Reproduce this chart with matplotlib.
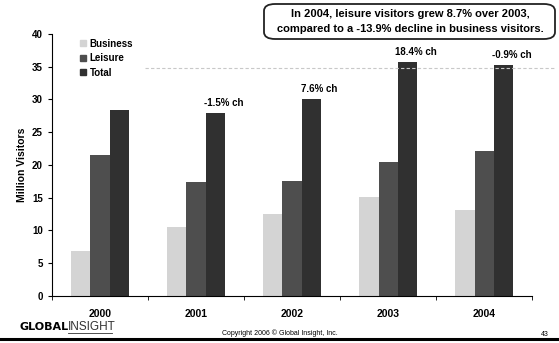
import matplotlib
matplotlib.use("Agg")
import matplotlib.pyplot as plt
import numpy as np
from matplotlib.patches import FancyBboxPatch
from matplotlib.lines import Line2D

plt.rcParams["font.family"] = ["Liberation Sans", "DejaVu Sans"]

years = ["2000", "2001", "2002", "2003", "2004"]
business = [6.8, 10.5, 12.5, 15.1, 13.1]
leisure = [21.6, 17.4, 17.5, 20.4, 22.1]
total = [28.4, 28.0, 30.1, 35.7, 35.3]
total_change = ["", "-1.5% ch", "7.6% ch", "18.4% ch", "-0.9% ch"]
series_names = ["Business", "Leisure", "Total"]
colors = ["#d4d4d4", "#4e4e4e", "#303030"]

fig = plt.figure(figsize=(5.59, 3.43), dpi=100)
ax = fig.add_axes([0.093, 0.137, 0.859, 0.764])

x = np.arange(len(years))
w = 0.2
for i, (vals, c, name) in enumerate(zip([business, leisure, total], colors, series_names)):
    ax.bar(x + (i - 1)*w, vals, w, color=c, label=name, edgecolor="none")

for xi, tv, lab in zip(x, total, total_change):
    if lab:
        ax.annotate(lab, (xi + w, tv), xytext=(6, 7), textcoords="offset points",
                    ha="center", va="center", fontsize=7, fontweight="bold")

ax.set_xlim(-0.5, len(years) - 0.5)
ax.set_ylim(0, 40)
ax.set_yticks(range(0, 41, 5))
ax.set_xticks(x)
ax.set_xticklabels(years, fontsize=7.5, fontweight="bold")
ax.set_xticks(np.arange(-0.5, len(years)), minor=True)
ax.tick_params(axis="x", which="major", length=0, pad=9)
ax.tick_params(axis="x", which="minor", length=3, direction="out")
ax.tick_params(axis="y", labelsize=7, length=3, direction="out")
for t in ax.get_yticklabels():
    t.set_fontweight("bold")
ax.spines["top"].set_visible(False)
ax.spines["right"].set_visible(False)
ax.set_ylabel("Million Visitors", fontsize=7.5, fontweight="bold", labelpad=4)

handles = [Line2D([], [], marker="s", linestyle="none", color=c, markersize=4.5) for c in colors]
leg = ax.legend(handles, series_names, loc="upper left", bbox_to_anchor=(0.04, 1.015),
                frameon=False, handlelength=0.6, handletextpad=0.4, labelspacing=0.45,
                prop={"size": 7, "weight": "bold"})

# faint dotted line across the plot area
fig.add_artist(Line2D([145/559, 555/559], [1 - 68/343, 1 - 68/343], color="#c8c8c8",
                      lw=0.8, linestyle=(0, (3, 2))))

# callout box
box = FancyBboxPatch((264/559, 1 - 39/343), 291/559, 35/343,
                     boxstyle="round,pad=0,rounding_size=0.02",
                     transform=fig.transFigure, facecolor="white", edgecolor="#222222", lw=1.3)
fig.add_artist(box)
fig.text(410/559, 1 - 14/343, "In 2004, leisure visitors grew 8.7% over 2003,",
         ha="center", va="center", fontsize=8, fontweight="bold")
fig.text(410/559, 1 - 29/343, "compared to a -13.9% decline in business visitors.",
         ha="center", va="center", fontsize=8, fontweight="bold")

# footer
fig.add_artist(Line2D([0, 1], [1 - 339/343, 1 - 339/343], color="black", lw=2.2))
fig.text(20/559, 1 - 327/343, "GLOBAL", ha="left", va="center", fontsize=8,
         fontweight="bold", family="DejaVu Sans")
fig.text(68/559, 1 - 327/343, "INSIGHT", ha="left", va="center", fontsize=8.5, color="#333333")
fig.add_artist(Line2D([68/559, 112/559], [1 - 333/343, 1 - 333/343], color="#333333", lw=0.6))
fig.text(280/559, 1 - 333/343, "Copyright 2006 \u00a9 Global Insight, Inc.",
         ha="center", va="center", fontsize=5)
fig.text(545/559, 1 - 334/343, "43", ha="center", va="center", fontsize=5)

fig.savefig("out.png", dpi=100)
